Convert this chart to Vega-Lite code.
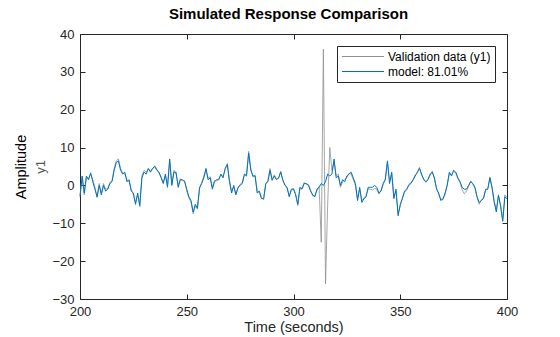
{
"$schema": "https://vega.github.io/schema/vega-lite/v6.json",
"width": 427, "height": 265,
"autosize": {"type": "none"},
"padding": {"left": 80, "top": 34, "right": 53, "bottom": 38},
"background": "white",
"title": {"text": "Simulated Response Comparison", "font": "Liberation Sans", "fontSize": 15, "fontWeight": "bold", "color": "#000000", "anchor": "middle", "offset": 6, "dx": -5},
"config": {
  "view": {"stroke": "#262626", "strokeWidth": 1},
  "axis": {"labelFont": "Liberation Sans", "labelFontSize": 13, "labelColor": "#262626", "titleFont": "Liberation Sans", "titleFontSize": 14.5, "titleFontWeight": "normal", "titleColor": "#262626", "grid": false, "tickColor": "#262626", "tickSize": -5, "domainColor": "#262626", "labelFlush": false, "labelOverlap": false},
  "legend": {"orient": "top-right", "offset": 12, "padding": 4, "strokeColor": "#262626", "fillColor": "white", "cornerRadius": 0, "labelFont": "Liberation Sans", "labelFontSize": 12, "labelColor": "#000000", "symbolType": "stroke", "symbolStrokeWidth": 1.2, "symbolSize": 1764, "clipHeight": 13, "rowPadding": 2, "labelOffset": 3}
},
"data": {"values": [
{"t":200,"val":-2.5,"mod":-3},{"t":201,"val":2,"mod":2.5},{"t":202,"val":-2.5,"mod":-2},{"t":203,"val":2,"mod":2.5},{"t":204,"val":1.8,"mod":1.5},
{"t":205,"val":3,"mod":3.3},{"t":206,"val":1.5,"mod":1},{"t":207,"val":-0.5,"mod":-1},{"t":208,"val":-3.2,"mod":-3},{"t":209,"val":0.5,"mod":0},
{"t":210,"val":-2,"mod":-2.5},{"t":211,"val":0.5,"mod":0},{"t":212,"val":-1,"mod":-1.5},{"t":213,"val":-0.8,"mod":-1},{"t":214,"val":0.8,"mod":0.5},
{"t":215,"val":1.2,"mod":1},{"t":216,"val":4.5,"mod":4},{"t":217,"val":6.5,"mod":6},{"t":218,"val":7,"mod":6.5},{"t":219,"val":4.5,"mod":4},
{"t":220,"val":3.3,"mod":3},{"t":221,"val":3,"mod":3.5},{"t":222,"val":1.5,"mod":1},{"t":223,"val":1,"mod":1.5},{"t":224,"val":-1,"mod":-1.5},
{"t":225,"val":-2.5,"mod":-2},{"t":226,"val":-4.5,"mod":-5},{"t":227,"val":-2.5,"mod":-2},{"t":228,"val":-5,"mod":-5.5},{"t":229,"val":2.5,"mod":2},
{"t":230,"val":4,"mod":3.5},{"t":231,"val":3.5,"mod":3},{"t":232,"val":4.2,"mod":4.5},{"t":233,"val":3.8,"mod":3.5},{"t":234,"val":4.3,"mod":4.5},
{"t":235,"val":5.2,"mod":5},{"t":236,"val":4.3,"mod":4},{"t":237,"val":3.2,"mod":3.5},{"t":238,"val":2.3,"mod":2},{"t":239,"val":0.8,"mod":0.5},
{"t":240,"val":2.5,"mod":3},{"t":241,"val":0,"mod":-0.5},{"t":242,"val":6.5,"mod":7},{"t":243,"val":0.5,"mod":0},{"t":244,"val":4,"mod":3.5},
{"t":245,"val":3,"mod":3.5},{"t":246,"val":0,"mod":-0.5},{"t":247,"val":1.8,"mod":1.5},{"t":248,"val":1.2,"mod":1.5},{"t":249,"val":1.3,"mod":1},
{"t":250,"val":-1.5,"mod":-1},{"t":251,"val":-3.3,"mod":-3},{"t":252,"val":-4.5,"mod":-4},{"t":253,"val":-7.5,"mod":-7},{"t":254,"val":-5.5,"mod":-5},
{"t":255,"val":-6.3,"mod":-6},{"t":256,"val":-1,"mod":-0.5},{"t":257,"val":0.8,"mod":0.5},{"t":258,"val":2.5,"mod":2},{"t":259,"val":4,"mod":4.5},
{"t":260,"val":2,"mod":1.5},{"t":261,"val":2.3,"mod":2},{"t":262,"val":-0.5,"mod":-1},{"t":263,"val":1.3,"mod":1},{"t":264,"val":1.2,"mod":1.5},
{"t":265,"val":1.8,"mod":1.5},{"t":266,"val":2.7,"mod":3},{"t":267,"val":2.4,"mod":2},{"t":268,"val":4.2,"mod":4.5},{"t":269,"val":5.8,"mod":5.5},
{"t":270,"val":1.5,"mod":1},{"t":271,"val":-1.5,"mod":-2},{"t":272,"val":-0.3,"mod":0},{"t":273,"val":-2.2,"mod":-2.5},{"t":274,"val":-0.8,"mod":-0.5},
{"t":275,"val":0.3,"mod":0},{"t":276,"val":0.8,"mod":0.5},{"t":277,"val":2.7,"mod":3},{"t":278,"val":2.8,"mod":2.5},{"t":279,"val":9,"mod":8.5},
{"t":280,"val":4.5,"mod":4},{"t":281,"val":2.2,"mod":2.5},{"t":282,"val":2.8,"mod":2.5},{"t":283,"val":-1.5,"mod":-2},{"t":284,"val":-1.8,"mod":-1.5},
{"t":285,"val":-3.2,"mod":-3.5},{"t":286,"val":-3.8,"mod":-3.5},{"t":287,"val":0.3,"mod":0.5},{"t":288,"val":1.3,"mod":1},{"t":289,"val":4.5,"mod":4},
{"t":290,"val":1.2,"mod":1.5},{"t":291,"val":2.8,"mod":2.5},{"t":292,"val":1.8,"mod":1.5},{"t":293,"val":1.8,"mod":2},{"t":294,"val":3.8,"mod":3.5},
{"t":295,"val":1.2,"mod":1.5},{"t":296,"val":0.3,"mod":0},{"t":297,"val":-0.8,"mod":-0.5},{"t":298,"val":-2.7,"mod":-3},{"t":299,"val":-1.3,"mod":-1},
{"t":300,"val":-0.7,"mod":-1},{"t":301,"val":-2.2,"mod":-2.5},{"t":302,"val":-5.3,"mod":-5},{"t":303,"val":-0.8,"mod":-0.5},{"t":304,"val":-0.7,"mod":-1},
{"t":305,"val":0.8,"mod":0.5},{"t":306,"val":0.2,"mod":0.5},{"t":307,"val":0.3,"mod":0},{"t":308,"val":-1.2,"mod":-1.5},{"t":309,"val":-2.8,"mod":-2.5},
{"t":310,"val":-2.7,"mod":-3},{"t":311,"val":-1.3,"mod":-1},{"t":312,"val":-0.3,"mod":-0.5},{"t":313,"val":-15,"mod":0.5},{"t":314,"val":36,"mod":0},
{"t":315,"val":-26,"mod":1},{"t":316,"val":-5,"mod":3},{"t":317,"val":10,"mod":2.5},{"t":318,"val":4,"mod":3},{"t":319,"val":6,"mod":7},
{"t":320,"val":2.5,"mod":2},{"t":321,"val":3,"mod":2.5},{"t":322,"val":-0.5,"mod":0},{"t":323,"val":1,"mod":1.5},{"t":324,"val":1.5,"mod":1},
{"t":325,"val":2,"mod":2.5},{"t":326,"val":3.2,"mod":3},{"t":327,"val":3,"mod":3.5},{"t":328,"val":1.5,"mod":2},{"t":329,"val":0,"mod":0.5},
{"t":330,"val":-3.5,"mod":-4},{"t":331,"val":-1,"mod":-0.5},{"t":332,"val":-4,"mod":-4.5},{"t":333,"val":-3.3,"mod":-3.5},{"t":334,"val":-2.6,"mod":-3},
{"t":335,"val":-0.9,"mod":-0.5},{"t":336,"val":-1,"mod":-0.5},{"t":337,"val":-1.2,"mod":-0.5},{"t":338,"val":-0.8,"mod":0},{"t":339,"val":-1,"mod":-0.5},
{"t":340,"val":-2.3,"mod":-2},{"t":341,"val":-1.2,"mod":-1.5},{"t":342,"val":0.3,"mod":0.5},{"t":343,"val":1.8,"mod":1.5},{"t":344,"val":6,"mod":6.5},
{"t":345,"val":1,"mod":0.5},{"t":346,"val":3,"mod":3.5},{"t":347,"val":-3,"mod":-3.5},{"t":348,"val":-1.5,"mod":-1},{"t":349,"val":-7.5,"mod":-8},
{"t":350,"val":-5.5,"mod":-5},{"t":351,"val":-3.2,"mod":-3.5},{"t":352,"val":-1.8,"mod":-1.5},{"t":353,"val":-1.3,"mod":-1},{"t":354,"val":0.3,"mod":0},
{"t":355,"val":0.8,"mod":0.5},{"t":356,"val":1.3,"mod":1.5},{"t":357,"val":2.8,"mod":2.5},{"t":358,"val":3.3,"mod":3.5},{"t":359,"val":4.8,"mod":4.5},
{"t":360,"val":2.7,"mod":3},{"t":361,"val":1.8,"mod":1.5},{"t":362,"val":0.8,"mod":1},{"t":363,"val":1.7,"mod":1.5},{"t":364,"val":2.7,"mod":3},
{"t":365,"val":3.8,"mod":3.5},{"t":366,"val":1.7,"mod":2},{"t":367,"val":-0.6,"mod":-1},{"t":368,"val":-2.4,"mod":-2},{"t":369,"val":-3.6,"mod":-4},
{"t":370,"val":-3.8,"mod":-3.5},{"t":371,"val":-2.4,"mod":-2},{"t":372,"val":0.3,"mod":0},{"t":373,"val":3.2,"mod":3.5},{"t":374,"val":2.8,"mod":2.5},
{"t":375,"val":3.7,"mod":4},{"t":376,"val":3.3,"mod":3.5},{"t":377,"val":1.7,"mod":2},{"t":378,"val":0.8,"mod":1},{"t":379,"val":-1.2,"mod":-0.5},
{"t":380,"val":-2.2,"mod":-1},{"t":381,"val":-1.5,"mod":-1},{"t":382,"val":-0.3,"mod":0},{"t":383,"val":1.2,"mod":1},{"t":384,"val":0.3,"mod":0.5},
{"t":385,"val":-0.8,"mod":-0.5},{"t":386,"val":-3.3,"mod":-3},{"t":387,"val":-5,"mod":-4.5},{"t":388,"val":-3.7,"mod":-4},{"t":389,"val":-3.2,"mod":-3.5},
{"t":390,"val":-1.3,"mod":-1},{"t":391,"val":-0.7,"mod":-1},{"t":392,"val":2.2,"mod":2},{"t":393,"val":-0.8,"mod":-0.5},{"t":394,"val":-4,"mod":-4.5},
{"t":395,"val":-6.5,"mod":-7},{"t":396,"val":-2.8,"mod":-2.5},{"t":397,"val":-5,"mod":-5.5},{"t":398,"val":-9,"mod":-9.5},{"t":399,"val":-2.5,"mod":-3},
{"t":400,"val":-3,"mod":-3.5}
]},
"layer": [
  {
    "mark": {"type": "line", "strokeWidth": 0.8},
    "encoding": {
      "x": {"field": "t", "type": "quantitative", "scale": {"domain": [200, 400], "nice": false, "zero": false},
            "axis": {"orient": "bottom", "values": [200, 250, 300, 350, 400], "labelPadding": 11, "title": "Time (seconds)", "titlePadding": 2}},
      "y": {"field": "val", "type": "quantitative", "scale": {"domain": [-30, 40], "nice": false, "zero": false},
            "axis": {"orient": "left", "values": [-30, -20, -10, 0, 10, 20, 30, 40], "labelPadding": 11, "title": "y1", "titleFontSize": 13, "titleColor": "#555555", "titlePadding": 4}},
      "color": {"datum": "Validation data (y1)", "type": "nominal",
                "scale": {"domain": ["Validation data (y1)", "model: 81.01%"], "range": ["#8f8f8f", "#0072BD"]},
                "legend": {"title": null}}
    }
  },
  {
    "mark": {"type": "line", "strokeWidth": 1},
    "encoding": {
      "x": {"field": "t", "type": "quantitative",
            "axis": {"orient": "top", "values": [200, 250, 300, 350, 400], "labels": false, "title": null, "domain": false}},
      "y": {"field": "mod", "type": "quantitative",
            "axis": {"orient": "right", "values": [-30, -20, -10, 0, 10, 20, 30, 40], "labels": false, "title": null, "domain": false}},
      "color": {"datum": "model: 81.01%", "type": "nominal"}
    }
  },
  {
    "mark": {"type": "line", "opacity": 0},
    "encoding": {
      "x": {"field": "t", "type": "quantitative", "axis": null},
      "y": {"field": "mod", "type": "quantitative",
            "axis": {"orient": "left", "labels": false, "ticks": false, "domain": false, "title": "Amplitude", "titleColor": "#000000", "titlePadding": 52}}
    }
  }
],
"resolve": {"axis": {"x": "independent", "y": "independent"}}
}
